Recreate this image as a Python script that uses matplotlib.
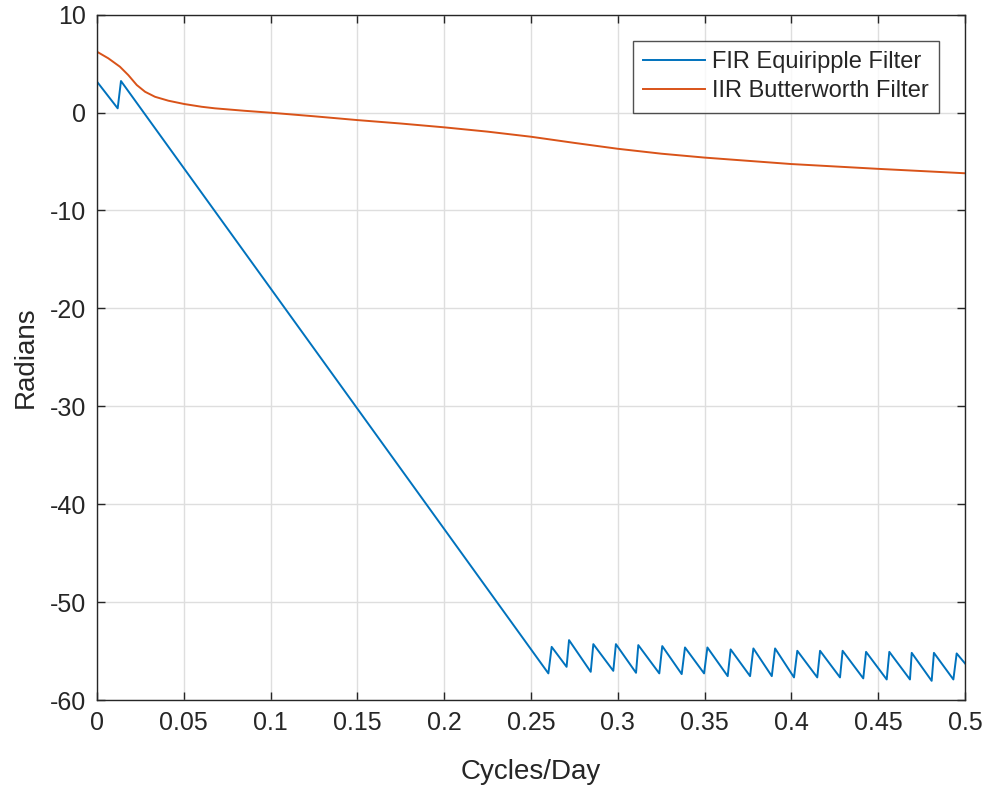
import matplotlib.pyplot as plt
import numpy as np

# phase response
firX = [0, 0.0119, 0.0138, 0.2600, 0.2619, 0.2705, 0.2719, 0.2844, 0.2859, 0.2974, 0.2989,
        0.3105, 0.3118, 0.3239, 0.3256, 0.3368, 0.3387, 0.3497, 0.3516, 0.3633, 0.3650,
        0.3762, 0.3781, 0.3887, 0.3906, 0.4015, 0.4034, 0.4149, 0.4165, 0.4280, 0.4295,
        0.4414, 0.4430, 0.4549, 0.4564, 0.4683, 0.4693, 0.4808, 0.4821, 0.4933, 0.4952, 0.5]
firY = [3.15, 0.43, 3.22, -57.28, -54.57, -56.61, -53.88, -57.12, -54.29, -57.02, -54.29,
        -57.22, -54.39, -57.28, -54.49, -57.35, -54.63, -57.28, -54.63, -57.56, -54.83,
        -57.56, -54.73, -57.56, -54.73, -57.69, -54.97, -57.69, -54.97, -57.69, -54.97,
        -57.79, -55.08, -57.90, -55.08, -57.90, -55.18, -58.04, -55.18, -57.90, -55.24, -56.26]

iirX = [0, 0.0065, 0.0132, 0.018, 0.0229, 0.0277, 0.0334, 0.0411, 0.0503, 0.0603, 0.068,
        0.085, 0.1002, 0.125, 0.15, 0.175, 0.2, 0.225, 0.25, 0.275, 0.3, 0.325,
        0.35, 0.4, 0.45, 0.5]
iirY = [6.21, 5.54, 4.68, 3.83, 2.81, 2.12, 1.61, 1.21, 0.87, 0.59, 0.43,
        0.18, -0.02, -0.38, -0.77, -1.12, -1.51, -1.95, -2.47, -3.1, -3.7, -4.2,
        -4.6, -5.26, -5.75, -6.2]

labels = ['FIR Equiripple Filter', 'IIR Butterworth Filter']
xTicks = [0, 0.05, 0.1, 0.15, 0.2, 0.25, 0.3, 0.35, 0.4, 0.45, 0.5]
xTickLabels = ['0', '0.05', '0.1', '0.15', '0.2', '0.25', '0.3', '0.35', '0.4', '0.45', '0.5']
yTicks = [-60, -50, -40, -30, -20, -10, 0, 10]

plt.rcParams['font.family'] = ['Liberation Sans', 'DejaVu Sans']
plt.rcParams['axes.unicode_minus'] = False
textColor = '#262626'

fig = plt.figure(figsize=(9.86, 7.87), dpi=100)
ax = fig.add_axes([0.0984, 0.1105, 0.8803, 0.8709])

ax.plot(firX, firY, color='#0072BD', linewidth=1.4, label=labels[0])
ax.plot(iirX, iirY, color='#D95319', linewidth=1.4, label=labels[1])

ax.set_xlim(0, 0.5)
ax.set_ylim(-60, 10)
ax.set_xticks(xTicks)
ax.set_xticklabels(xTickLabels)
ax.set_yticks(yTicks)
ax.grid(True, color='#dedede', linewidth=1.0)
ax.set_axisbelow(True)

ax.tick_params(direction='in', top=True, right=True, length=6, width=1.0,
               colors=textColor, labelsize=18, pad=8)
for spine in ax.spines.values():
    spine.set_color(textColor)
    spine.set_linewidth(1.0)

ax.set_xlabel('Cycles/Day', fontsize=20, color=textColor, labelpad=17)
ax.set_ylabel('Radians', fontsize=20, color=textColor, labelpad=8)

legend = ax.legend(loc='upper right', fontsize=17, frameon=True, fancybox=False,
                   edgecolor=textColor, handlelength=2.6, handletextpad=0.3,
                   borderpad=0.45, labelspacing=0.3, borderaxespad=1.1)
legend.get_frame().set_linewidth(1.0)
for text in legend.get_texts():
    text.set_color(textColor)

fig.savefig('out.png', dpi=100)
